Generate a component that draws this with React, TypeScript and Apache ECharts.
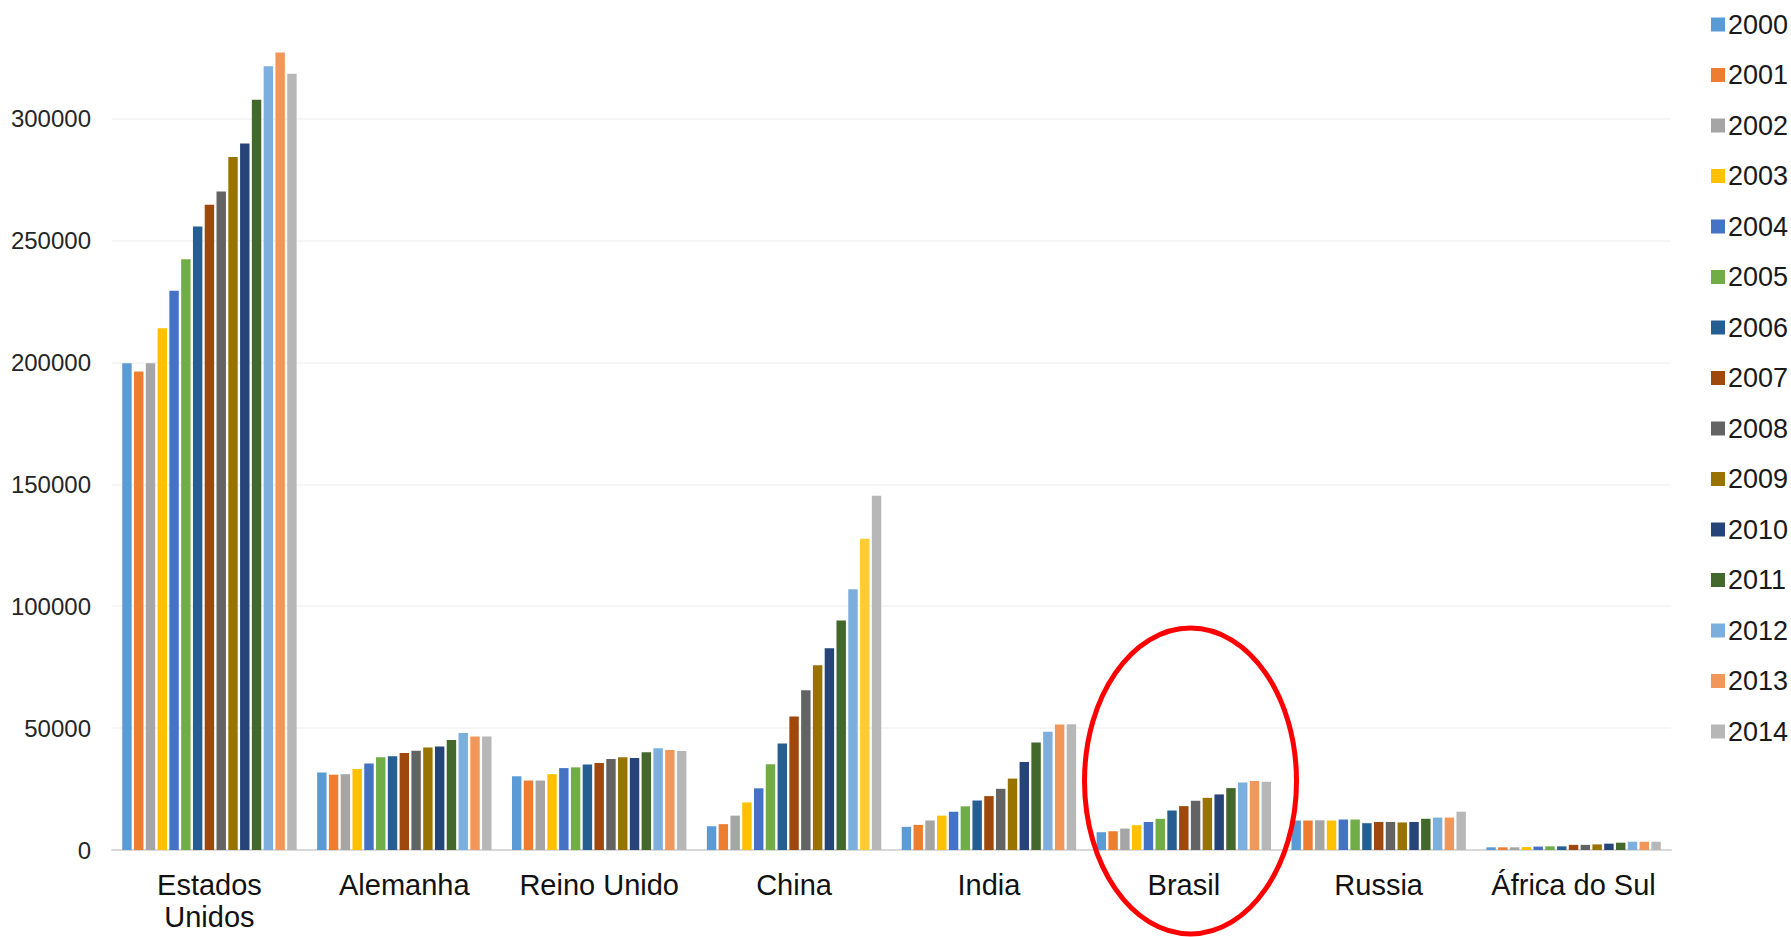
import React, { useEffect, useRef } from "react";
import * as echarts from "echarts";

const countries = ["Estados\nUnidos", "Alemanha", "Reino Unido", "China", "India", "Brasil", "Russia", "África do Sul"];
const years = ["2000", "2001", "2002", "2003", "2004", "2005", "2006", "2007", "2008", "2009", "2010", "2011", "2012", "2013", "2014"];

const estadosUnidos = [199700, 196300, 199700, 214000, 229400, 242300, 255800, 264700, 270100, 284300, 289800, 307800, 321500, 327200, 318400];
const alemanha = [31800, 30900, 31100, 33200, 35500, 38000, 38500, 39800, 40700, 42000, 42500, 45100, 48000, 46600, 46600];
const reinoUnido = [30300, 28500, 28500, 31100, 33600, 33900, 35100, 35700, 37300, 38000, 37700, 40100, 41700, 41000, 40600];
const china = [9750, 10600, 14100, 19500, 25300, 35200, 43700, 54800, 65500, 75800, 82800, 94100, 107000, 127700, 145300];
const india = [9500, 10300, 12100, 14100, 15700, 17900, 20300, 22100, 25100, 29300, 36100, 44100, 48500, 51500, 51600];
const brasil = [7300, 7700, 8800, 10200, 11500, 12800, 16200, 18000, 20200, 21400, 22800, 25400, 27700, 28300, 28000];
const russia = [12100, 12100, 12200, 12100, 12500, 12500, 11000, 11500, 11500, 11300, 11500, 12800, 13300, 13300, 15700];
const africaDoSul = [1100, 1100, 1100, 1200, 1400, 1500, 1500, 2100, 2100, 2300, 2600, 3000, 3400, 3400, 3400];

const byCountry = [estadosUnidos, alemanha, reinoUnido, china, india, brasil, russia, africaDoSul];

const yearColors = [
  "#5B9BD5", "#ED7D31", "#A5A5A5", "#FFC000", "#4472C4",
  "#70AD47", "#255E91", "#9E480E", "#636363", "#997300",
  "#264478", "#43682B", "#7CAFDD", "#F1975A", "#B7B7B7",
];

// tick labels: 0 .. 300000 step 50000; axis top reaches slightly above the last tick
const yMin = 0;
const yStep = 50000;
const yTop = 348700;

const FONT = "'Liberation Sans', Arial, sans-serif";

export default function App() {
  const ref = useRef<HTMLDivElement>(null);

  useEffect(() => {
    if (!ref.current) return;
    const chart = echarts.init(ref.current, null, { renderer: "svg" });

    const series = years.map((yr, yi) => ({
      name: yr,
      type: "bar",
      barGap: "25%",
      barCategoryGap: "10.5%",
      itemStyle: { color: yearColors[yi] },
      data: byCountry.map((vals, ci) => {
        // China 2013 bar is highlighted yellow in the reference
        if (ci === 3 && yi === 13) {
          return { value: vals[yi], itemStyle: { color: "#FFCC33" } };
        }
        return vals[yi];
      }),
    }));

    chart.setOption({
      animation: false,
      backgroundColor: "#ffffff",
      textStyle: { fontFamily: FONT },
      grid: { left: 112, right: 120, top: 0, bottom: 87, containLabel: false },
      legend: {
        orient: "vertical",
        left: 1706,
        top: 6,
        itemWidth: 14,
        itemHeight: 14,
        itemGap: 23.5,
        icon: "rect",
        textStyle: { fontSize: 27, color: "#1a1a1a", fontFamily: FONT, padding: [0, 0, 0, -2] },
        data: years,
      },
      xAxis: {
        type: "category",
        data: countries,
        axisLine: { show: true, lineStyle: { color: "#D9D9D9", width: 2 } },
        axisTick: { show: false },
        axisLabel: {
          fontSize: 29,
          color: "#111",
          fontFamily: FONT,
          margin: 19,
          lineHeight: 32,
          interval: 0,
        },
      },
      yAxis: {
        type: "value",
        min: yMin,
        max: yTop,
        interval: yStep,
        axisLine: { show: false },
        axisTick: { show: false },
        splitLine: { lineStyle: { color: "#F2F2F2", width: 1.5 }, showMaxLine: false },
        axisLabel: {
          fontSize: 24,
          color: "#262626",
          fontFamily: FONT,
          margin: 21,
          showMaxLabel: false,
          formatter: (v: number) => String(v),
        },
      },
      graphic: [
        {
          type: "ellipse",
          shape: { cx: 1190.5, cy: 781, rx: 106, ry: 153 },
          style: { fill: "none", stroke: "#FF0000", lineWidth: 5 },
          z: 100,
        },
      ],
      series,
    });

    return () => chart.dispose();
  }, []);

  return (
    <div
      ref={ref}
      style={{ position: "absolute", left: 0, top: 0, width: 1791, height: 937, background: "#fff" }}
    />
  );
}
